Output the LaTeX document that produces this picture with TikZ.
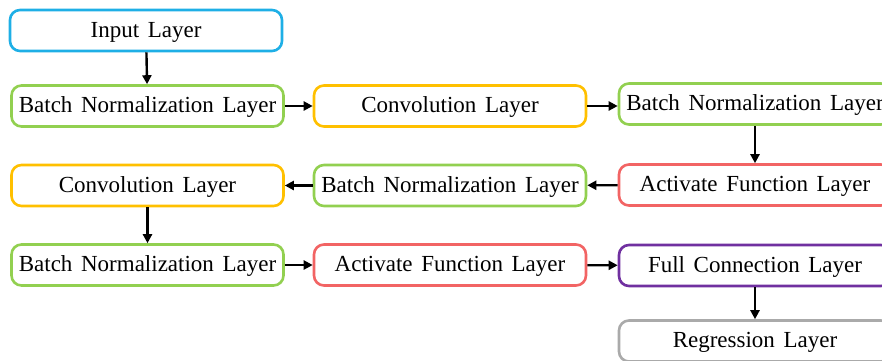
\documentclass[tikz,border=0pt]{standalone}
\usepackage{fontspec}
\setmainfont{Liberation Serif}[WordSpace=1.5]
\usetikzlibrary{arrows.meta}
\definecolor{cblue}{RGB}{30,175,230}
\definecolor{cgreen}{RGB}{146,208,80}
\definecolor{corange}{RGB}{255,192,0}
\definecolor{cred}{RGB}{242,100,100}
\definecolor{cpurple}{RGB}{112,48,160}
\definecolor{cgray}{RGB}{170,170,170}
\begin{document}
\begin{tikzpicture}[x=1pt,y=-1pt,
  layer/.style={draw, line width=2.6pt, rounded corners=10pt, fill=white,
    minimum width=272pt, minimum height=41pt, inner sep=0pt,
    text height=16pt, text depth=3pt,
    font=\fontsize{23}{27}\selectfont},
  link/.style={line width=2.4pt, -{Triangle[length=9pt,width=9pt]}}]
\useasboundingbox (0,0) rectangle (882,360);
% first column
\node[layer, draw=cblue]   (in)  at (146,30.5)  {Input Layer};
\node[layer, draw=cgreen]  (bn1) at (147.5,106) {Batch Normalization Layer};
\node[layer, draw=corange] (cv2) at (147.5,185.5) {Convolution Layer};
\node[layer, draw=cgreen]  (bn3) at (147.5,265) {Batch Normalization Layer};
% second column
\node[layer, draw=corange] (cv1) at (450,106)   {Convolution Layer};
\node[layer, draw=cgreen]  (bn2) at (450,185.5) {Batch Normalization Layer};
\node[layer, draw=cred]    (af2) at (450,265)   {Activate Function Layer};
% third column
\node[layer, draw=cgreen]  (bnr) at (755,104)   {Batch Normalization Layer};
\node[layer, draw=cred]    (af1) at (755,185)   {Activate Function Layer};
\node[layer, draw=cpurple] (fc)  at (755,265.5) {Full Connection Layer};
\node[layer, draw=cgray]   (rg)  at (755,341)   {Regression Layer};
% connectors
\draw[link] (in) -- (bn1);
\draw[link] (bn1) -- (cv1);
\draw[link] (cv1.east) -- (bnr.west |- cv1.east);
\draw[link] (bnr) -- (af1);
\draw[link] (af1) -- (bn2);
\draw[link] (bn2) -- (cv2);
\draw[link] (cv2) -- (bn3);
\draw[link] (bn3) -- (af2);
\draw[link] (af2) -- (fc);
\draw[link] (fc) -- (rg);
\end{tikzpicture}
\end{document}
